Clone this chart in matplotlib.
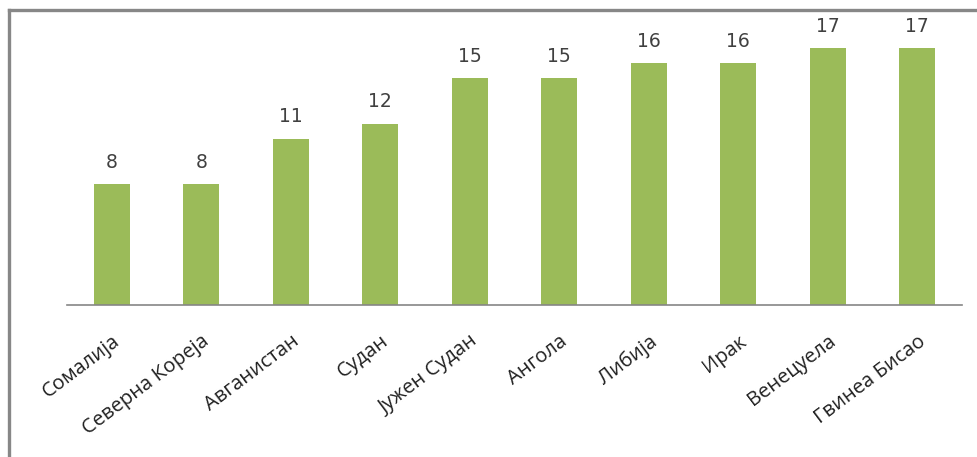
import matplotlib.pyplot as plt
from matplotlib.lines import Line2D

countries = ['Сомалија', 'Северна Кореја', 'Авганистан', 'Судан', 'Јужен Судан',
             'Ангола', 'Либија', 'Ирак', 'Венецуела', 'Гвинеа Бисао']
scores = [8, 8, 11, 12, 15, 15, 16, 16, 17, 17]

W, H = 978, 457
fig = plt.figure(figsize=(W / 100, H / 100), dpi=100)
ax = fig.add_axes([67 / W, (H - 305) / H, 895 / W, 287 / H])

x = range(len(countries))
bars = ax.bar(x, scores, width=0.4, color='#9BBB59', zorder=2)
ax.set_xlim(-0.5, len(countries) - 0.5)
ax.set_ylim(0, 19)

for rect, v in zip(bars, scores):
    ax.annotate(str(v), (rect.get_x() + rect.get_width() / 2, v),
                xytext=(0, 9), textcoords='offset points', ha='center', va='bottom',
                fontsize=13.5, color='#404040', family='DejaVu Sans')

ax.set_xticks(list(x))
ax.set_xticklabels(countries, rotation=37, ha='right', rotation_mode='anchor',
                   fontsize=14.5, family='Open Sans', color='#202020')
ax.tick_params(axis='x', length=0, pad=19)
ax.set_yticks([])
for side in ['top', 'right', 'left']:
    ax.spines[side].set_visible(False)
ax.spines['bottom'].set_color('#868686')
ax.spines['bottom'].set_linewidth(1.2)

# chart frame: left and top edges only
fig.add_artist(Line2D([9 / W, 9 / W], [0, 1 - 10 / H], transform=fig.transFigure,
                      color='#878787', lw=2.4))
fig.add_artist(Line2D([9 / W, 1], [1 - 10 / H, 1 - 10 / H], transform=fig.transFigure,
                      color='#878787', lw=2.4))

fig.savefig('out.png', dpi=100)
